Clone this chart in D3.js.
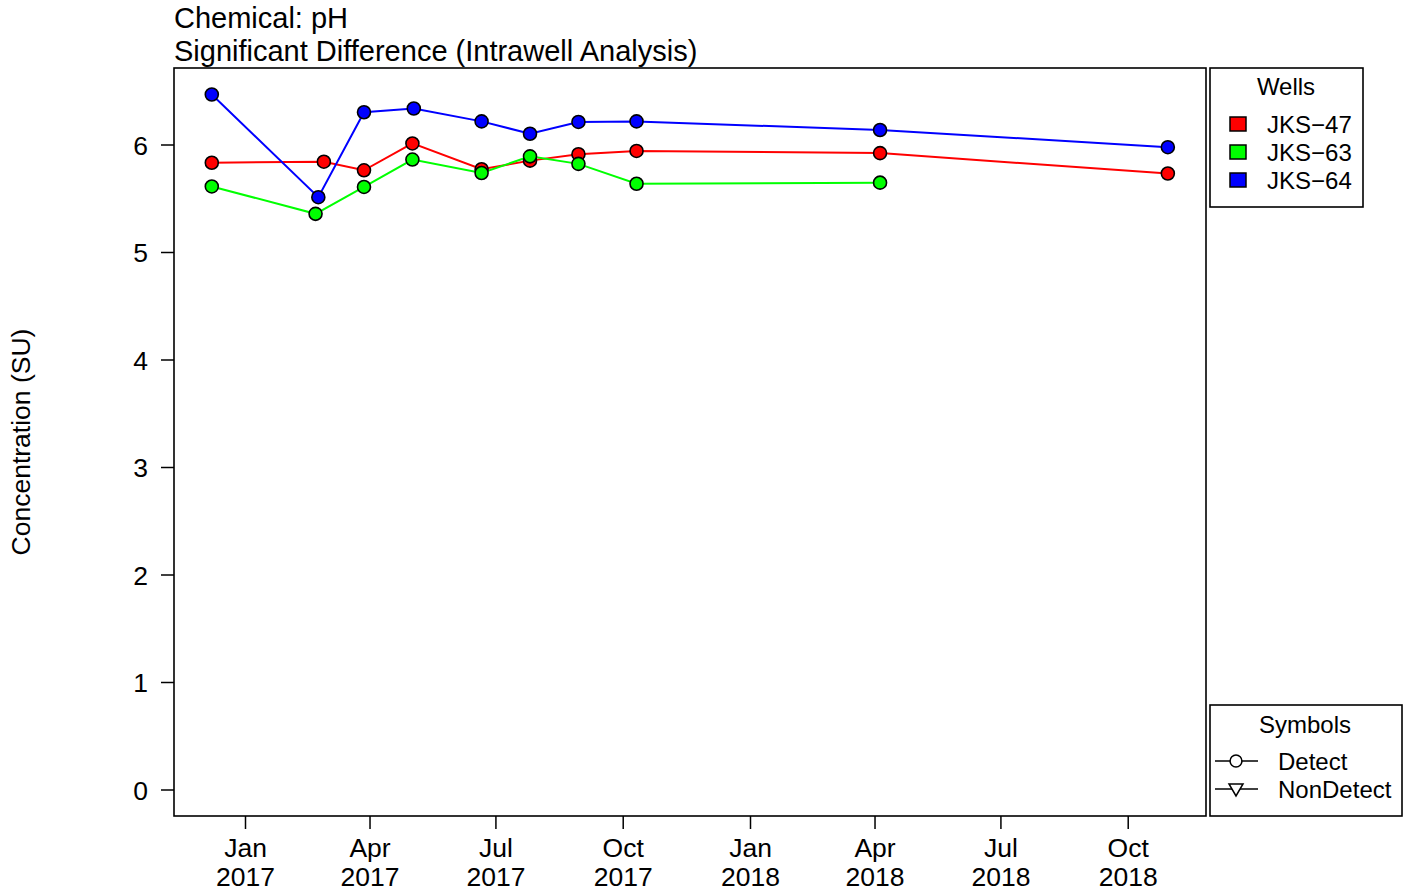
<!DOCTYPE html>
<html>
<head>
<meta charset="utf-8">
<script src="https://cdn.jsdelivr.net/npm/d3@7"></script>
<style>
  body { margin: 0; background: #fff; }
  svg text { font-family: "Liberation Sans", Arial, sans-serif; fill: #000; }
</style>
</head>
<body>
<svg id="chart" width="1406" height="896"></svg>
<script>
// ---- data ----
const wells = ["JKS\u221247", "JKS\u221263", "JKS\u221264"];
const wellColors = ["#ff0000", "#00ff00", "#0000ff"];
const datesJKS47 = ["2016-12-08","2017-02-27","2017-03-28","2017-05-02","2017-06-21","2017-07-26","2017-08-30","2017-10-11","2018-04-05","2018-10-30"];
const valuesJKS47 = [5.83, 5.84, 5.76, 6.01, 5.77, 5.85, 5.91, 5.94, 5.92, 5.73];
const datesJKS63 = ["2016-12-08","2017-02-21","2017-03-28","2017-05-02","2017-06-21","2017-07-26","2017-08-30","2017-10-11","2018-04-05"];
const valuesJKS63 = [5.61, 5.355, 5.605, 5.86, 5.735, 5.89, 5.82, 5.635, 5.645];
const datesJKS64 = ["2016-12-08","2017-02-23","2017-03-28","2017-05-03","2017-06-21","2017-07-26","2017-08-30","2017-10-11","2018-04-05","2018-10-30"];
const valuesJKS64 = [6.465, 5.51, 6.30, 6.335, 6.215, 6.10, 6.21, 6.215, 6.135, 5.975];
const yTicks = [0, 1, 2, 3, 4, 5, 6];
const xTickDates = ["2017-01-01","2017-04-01","2017-07-01","2017-10-01","2018-01-01","2018-04-01","2018-07-01","2018-10-01"];
const titleLines = ["Chemical: pH", "Significant Difference (Intrawell Analysis)"];
const yLabel = "Concentration (SU)";
const symbolNames = ["Detect", "NonDetect"];

// ---- layout ----
const svg = d3.select("#chart");
const plot = {left: 174, right: 1206, top: 68, bottom: 816};
const parse = d3.utcParse("%Y-%m-%d");
const FONT = "Liberation Sans, Arial, sans-serif";

const j17 = parse("2017-01-01"), j18 = parse("2018-01-01");
const pxPerMs = (750 - 245) / (j18 - j17);
const x = d3.scaleUtc()
  .domain([new Date(+j17 - (245 - plot.left) / pxPerMs), new Date(+j17 + (plot.right - 245) / pxPerMs)])
  .range([plot.left, plot.right]);

const y = d3.scaleLinear()
  .domain([(789.5 - plot.bottom) / 107.5, (789.5 - plot.top) / 107.5])
  .range([plot.bottom, plot.top]);

const series = [
  {name: wells[0], color: wellColors[0], dates: datesJKS47, values: valuesJKS47},
  {name: wells[1], color: wellColors[1], dates: datesJKS63, values: valuesJKS63},
  {name: wells[2], color: wellColors[2], dates: datesJKS64, values: valuesJKS64}
].map(s => ({...s, pts: s.dates.map((d, i) => ({date: parse(d), value: s.values[i]}))}));

// titles
svg.selectAll("text.title").data(titleLines).enter().append("text")
  .attr("class", "title")
  .attr("x", plot.left)
  .attr("y", (d, i) => 28 + i * 33)
  .attr("font-size", 29)
  .text(d => d);

// y label
svg.append("text")
  .attr("transform", `translate(30,${(plot.top + plot.bottom) / 2}) rotate(-90)`)
  .attr("text-anchor", "middle")
  .attr("font-size", 26.5)
  .text(yLabel);

// axes
const yAxis = d3.axisLeft(y).tickValues(yTicks).tickSize(13).tickPadding(13).tickFormat(d3.format("d"));
const gy = svg.append("g").attr("transform", `translate(${plot.left},0)`).call(yAxis);
gy.select(".domain").remove();
gy.selectAll(".tick line").attr("stroke", "#000").attr("stroke-width", 1.5);
gy.selectAll(".tick text").attr("font-size", 26.5).attr("font-family", FONT).attr("fill", "#000").attr("dy", "0.36em");

const xAxis = d3.axisBottom(x).tickValues(xTickDates.map(parse)).tickSize(13).tickFormat("");
const gx = svg.append("g").attr("transform", `translate(0,${plot.bottom})`).call(xAxis);
gx.select(".domain").remove();
gx.selectAll(".tick line").attr("stroke", "#000").attr("stroke-width", 1.5);
const fmtM = d3.utcFormat("%b"), fmtY = d3.utcFormat("%Y");
gx.selectAll(".tick").each(function(d) {
  const g = d3.select(this);
  g.append("text").attr("y", 41).attr("text-anchor", "middle").attr("font-size", 26.5)
    .attr("font-family", FONT).attr("fill", "#000").text(fmtM(d));
  g.append("text").attr("y", 70).attr("text-anchor", "middle").attr("font-size", 26.5)
    .attr("font-family", FONT).attr("fill", "#000").text(fmtY(d));
});

// lines
const line = d3.line().x(d => x(d.date)).y(d => y(d.value));
svg.selectAll("path.series").data(series).enter().append("path")
  .attr("class", "series")
  .attr("d", d => line(d.pts))
  .attr("fill", "none")
  .attr("stroke", d => d.color)
  .attr("stroke-width", 2);

// points
series.forEach(s => {
  svg.append("g").selectAll("circle").data(s.pts).enter().append("circle")
    .attr("cx", d => x(d.date))
    .attr("cy", d => y(d.value))
    .attr("r", 6.5)
    .attr("fill", s.color)
    .attr("stroke", "#000")
    .attr("stroke-width", 1.6);
});

// plot frame
svg.append("rect")
  .attr("x", plot.left).attr("y", plot.top)
  .attr("width", plot.right - plot.left).attr("height", plot.bottom - plot.top)
  .attr("fill", "none").attr("stroke", "#000").attr("stroke-width", 1.6);

// Wells legend
const lw = svg.append("g");
lw.append("rect").attr("x", 1210).attr("y", 68).attr("width", 153).attr("height", 139)
  .attr("fill", "#fff").attr("stroke", "#000").attr("stroke-width", 1.6);
lw.append("text").attr("x", 1286).attr("y", 95).attr("text-anchor", "middle").attr("font-size", 24).text("Wells");
const rows = lw.selectAll("g.row").data(series).enter().append("g")
  .attr("transform", (d, i) => `translate(0,${124 + i * 28})`);
rows.append("rect").attr("x", 1230).attr("y", -7).attr("width", 16).attr("height", 14)
  .attr("fill", d => d.color).attr("stroke", "#000").attr("stroke-width", 1.5);
rows.append("text").attr("x", 1267).attr("y", 8.5).attr("font-size", 24).text(d => d.name);

// Symbols legend
const ls = svg.append("g");
ls.append("rect").attr("x", 1210).attr("y", 705).attr("width", 192).attr("height", 111)
  .attr("fill", "#fff").attr("stroke", "#000").attr("stroke-width", 1.6);
ls.append("text").attr("x", 1305).attr("y", 733).attr("text-anchor", "middle").attr("font-size", 24).text("Symbols");
const srow = ls.selectAll("g.srow").data(symbolNames).enter().append("g")
  .attr("transform", (d, i) => `translate(0,${761 + i * 28})`);
srow.append("line").attr("x1", 1215).attr("x2", 1258).attr("y1", 0).attr("y2", 0)
  .attr("stroke", "#000").attr("stroke-width", 1.5);
srow.append("path")
  .attr("d", (d, i) => i === 0 ? d3.symbol(d3.symbolCircle, 110)() : "M-7,-5L7,-5L0,7Z")
  .attr("transform", "translate(1236,0)")
  .attr("fill", "#fff").attr("stroke", "#000").attr("stroke-width", 1.5);
srow.append("text").attr("x", 1278).attr("y", 8.5).attr("font-size", 24).text(d => d);
</script>
</body>
</html>
